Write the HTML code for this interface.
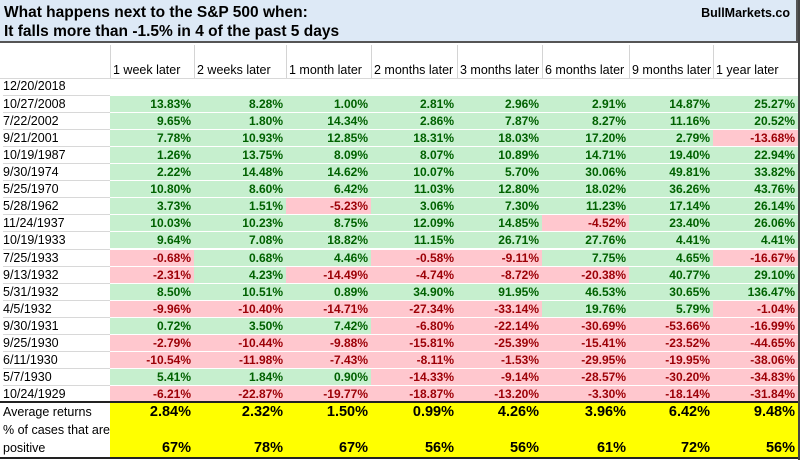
<!DOCTYPE html>
<html><head><meta charset="utf-8"><style>
body{margin:0;width:800px;height:460px;background:#fff;font-family:"Liberation Sans",sans-serif;overflow:hidden;position:relative}
.c{position:absolute;box-sizing:border-box;font-size:11.5px;white-space:nowrap;line-height:16px}
#title{position:absolute;left:0;top:0;width:798px;height:43px;background:#dde9f6;border-bottom:2px solid #555;border-right:2px solid #555;box-sizing:border-box}
</style></head><body>
<div id="title">
<div style="position:absolute;left:4px;top:3px;font-size:15.5px;font-weight:bold;line-height:19px">What happens next to the S&amp;P 500 when:<br>It falls more than -1.5% in 4 of the past 5 days</div>
<div style="position:absolute;right:6px;top:6px;font-size:12.5px;font-weight:bold">BullMarkets.co</div>
</div>
<div id="tbl"></div>
<script>
const headers=["1 week later","2 weeks later","1 month later","2 months later","3 months later","6 months later","9 months later","1 year later"];
const dates=["10/27/2008","7/22/2002","9/21/2001","10/19/1987","9/30/1974","5/25/1970","5/28/1962","11/24/1937","10/19/1933","7/25/1933","9/13/1932","5/31/1932","4/5/1932","9/30/1931","9/25/1930","6/11/1930","5/7/1930","10/24/1929"];
const values=[
[13.83,8.28,1.00,2.81,2.96,2.91,14.87,25.27],
[9.65,1.80,14.34,2.86,7.87,8.27,11.16,20.52],
[7.78,10.93,12.85,18.31,18.03,17.20,2.79,-13.68],
[1.26,13.75,8.09,8.07,10.89,14.71,19.40,22.94],
[2.22,14.48,14.62,10.07,5.70,30.06,49.81,33.82],
[10.80,8.60,6.42,11.03,12.80,18.02,36.26,43.76],
[3.73,1.51,-5.23,3.06,7.30,11.23,17.14,26.14],
[10.03,10.23,8.75,12.09,14.85,-4.52,23.40,26.06],
[9.64,7.08,18.82,11.15,26.71,27.76,4.41,4.41],
[-0.68,0.68,4.46,-0.58,-9.11,7.75,4.65,-16.67],
[-2.31,4.23,-14.49,-4.74,-8.72,-20.38,40.77,29.10],
[8.50,10.51,0.89,34.90,91.95,46.53,30.65,136.47],
[-9.96,-10.40,-14.71,-27.34,-33.14,19.76,5.79,-1.04],
[0.72,3.50,7.42,-6.80,-22.14,-30.69,-53.66,-16.99],
[-2.79,-10.44,-9.88,-15.81,-25.39,-15.41,-23.52,-44.65],
[-10.54,-11.98,-7.43,-8.11,-1.53,-29.95,-19.95,-38.06],
[5.41,1.84,0.90,-14.33,-9.14,-28.57,-30.20,-34.83],
[-6.21,-22.87,-19.77,-18.87,-13.20,-3.30,-18.14,-31.84]];
const averages=[2.84,2.32,1.50,0.99,4.26,3.96,6.42,9.48];
const positivePct=[67,78,67,56,56,61,72,56];
const colX=[0,110,194,286,371,457,542,629,713,798];
const t=document.getElementById('tbl');
function cell(x,y,w,h,txt,st){const d=document.createElement('div');d.className='c';
d.style.cssText+=`left:${x}px;top:${y}px;width:${w}px;height:${h}px;`+st;d.textContent=txt;t.appendChild(d);return d;}
for(let i=1;i<9;i++){const g=cell(colX[i],45,1,33,'','background:#d4d4d4');}
headers.forEach((h,i)=>{const d=cell(colX[i+1]+3,45,colX[i+2]-colX[i+1],33,h,'padding-top:17px;font-size:12.5px;');

});
const d0=cell(3,78,107,17,'12/20/2018','font-size:12.5px;');


const gl=cell(0,78,798,1,'','background:#d8d8d8');
dates.forEach((dt,r)=>{const y=95+r*17.06;
const dl=cell(3,y,107,17,dt,'border-top:1px solid #d8d8d8;font-size:12.5px;');


values[r].forEach((v,c)=>{const neg=v<0;
const e=cell(colX[c+1],y,colX[c+2]-colX[c+1],17,v.toFixed(2)+'%',`background:${neg?'#ffc7ce':'#c6efce'};color:${neg?'#9c0006':'#006100'};font-weight:bold;font-size:12px;text-align:right;padding-right:3px;border:1px solid #fff;border-width:1px 0 0 0;`);

});});
const ln=cell(0,401,798,2,'','background:#222');
const ln2=cell(0,457,798,2,'','background:#222');
const ln3=cell(798,0,2,460,'','background:#444');
const a=cell(3,403,107,18,'Average returns','font-size:12.5px;line-height:18px');
const p=cell(3,421,107,36,'% of cases that are\npositive','font-size:12.5px;line-height:18px;white-space:pre');
const yb=cell(110,403,688,54,'','background:#ffff00');
averages.forEach((v,c)=>{const e=cell(colX[c+1],403,colX[c+2]-colX[c+1],18,v.toFixed(2)+'%','font-weight:bold;font-size:14.5px;line-height:19px;text-align:right;padding-right:3px');

});
positivePct.forEach((v,c)=>{const e=cell(colX[c+1],439,colX[c+2]-colX[c+1],18,v+'%','font-weight:bold;font-size:14.5px;line-height:18px;text-align:right;padding-right:3px');

});
</script>
</body></html>
